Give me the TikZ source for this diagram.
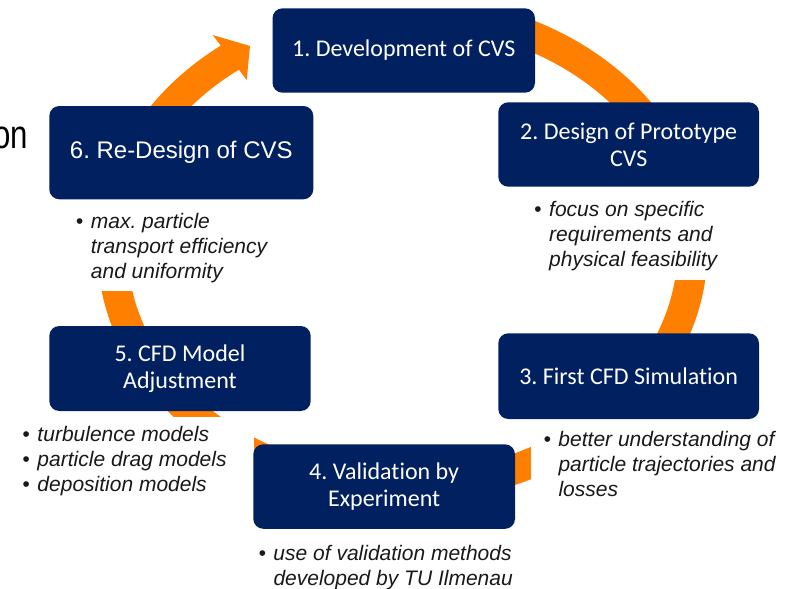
\documentclass[tikz,border=0pt]{standalone}
\usepackage{fontspec}
\setmainfont{Liberation Sans}
\newfontfamily\boxfont[Ligatures=NoCommon]{Carlito}
\definecolor{navy}{HTML}{002060}
\definecolor{cycleorange}{HTML}{FF8000}
\newlength{\bulletgap}\setlength{\bulletgap}{15pt}
\newcommand{\bitem}{\makebox[\bulletgap][l]{\textbullet}}
\newcommand{\bcont}{\hspace*{\bulletgap}}
\frenchspacing

\begin{document}
\begin{tikzpicture}[x=1pt,y=-1pt,
  stage/.style={fill=navy, rounded corners=10pt, text=white, align=center,
    inner sep=0pt, font=\boxfont\fontsize{24}{26.7}\selectfont},
  note/.style={anchor=base west, align=left, inner sep=0pt, text=black!90,
    font=\fontsize{21}{25}\selectfont\itshape},
  band/.style={draw=cycleorange, line width=30pt},
  mask/.style={fill=white}]
\useasboundingbox (0,0) rectangle (785,589);
\clip (0,0) rectangle (785,589);

% cut-off title text at the left edge
\node[anchor=base east, inner sep=0pt, font=\fontsize{40}{44}\selectfont] (title) at (28.5,148.3) {\scalebox{0.78}[1]{on}};

% orange cycle band running clockwise behind the stages
\draw[band] plot[domain=-68:234.5, samples=160, smooth]
  ({402.5+290*cos(\x)},{249.3+238.5*sin(\x)});
\coordinate (tip) at (250,46);
\coordinate (hl) at (212.7,35);
\coordinate (hr) at (246.7,80);
\fill[cycleorange] (hl) -- (tip) -- (hr) -- cycle;

% white panels behind the bullet notes
\fill[mask] (60,199) rectangle (300,290.5);
\fill[mask] (520,186) rectangle (770,280);
\fill[mask] (530.7,419) rectangle (785,510);
\fill[mask] (10,416.5) rectangle (253.5,500);

% stages
\node[stage, minimum width=262.5pt, minimum height=84.4pt] (s1) at (403.75,50.5) {1. Development of CVS};
\node[stage, minimum width=260.7pt, minimum height=84.4pt] (s2) at (628.65,144.5) {2. Design of Prototype\\CVS};
\node[stage, minimum width=260.7pt, minimum height=85.7pt] (s3) at (628.65,376.15) {3. First CFD Simulation};
\node[stage, minimum width=261.7pt, minimum height=84.5pt] (s4) at (384.15,486.55) {4. Validation by\\Experiment};
\node[stage, minimum width=261.4pt, minimum height=85pt] (s5) at (180,368.5) {5. CFD Model\\Adjustment};
\node[stage, minimum width=264pt, minimum height=93.3pt, font=\fontsize{24}{26.7}\selectfont] (s6) at (181.3,152.65) {6. Re-Design of CVS};

% bullet notes (anchored at the baseline of their last line)
\node[note] (n6) at (75.7,278.3) {\bitem max. particle\\\bcont transport efficiency\\\bcont and uniformity};
\node[note] (n2) at (534,266.7) {\bitem focus on specific\\\bcont requirements and\\\bcont physical feasibility};
\node[note] (n3) at (543.3,496.7) {\bitem better understanding of\\\bcont particle trajectories and\\\bcont losses};
\node[note] (n5) at (22.3,491.7) {\bitem turbulence models\\\bitem particle drag models\\\bitem deposition models};
\node[note] (n4) at (258.3,585) {\bitem use of validation methods\\\bcont developed by TU Ilmenau};
\end{tikzpicture}
\end{document}
